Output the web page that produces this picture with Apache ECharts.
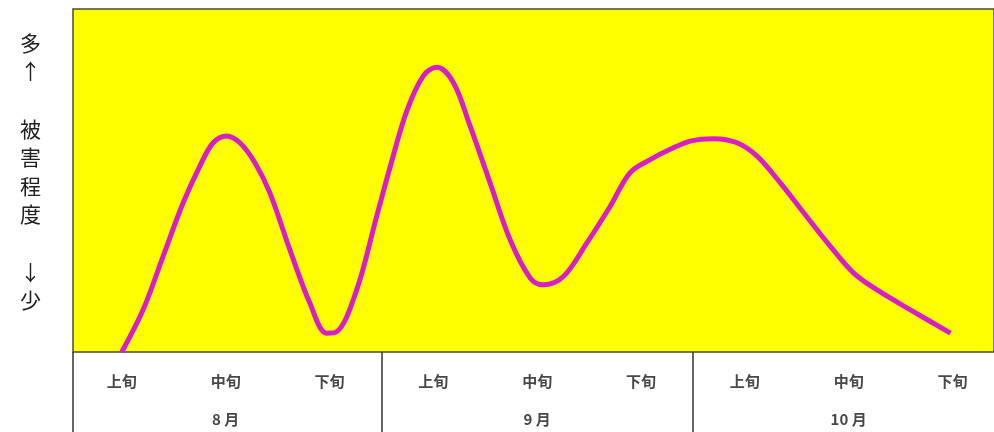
<!DOCTYPE html>
<html>
<head>
<meta charset="utf-8">
<script src="https://cdn.jsdelivr.net/npm/echarts@6/dist/echarts.min.js"></script>
<style>
html,body{margin:0;padding:0;background:#fff;}
#chart{width:994px;height:432px;}
</style>
</head>
<body>
<div id="chart"></div>
<script>
// Period labels (上旬/中旬/下旬 of each month) at positions 0..8
const periodLabels = ['上旬','中旬','下旬','上旬','中旬','下旬','上旬','中旬','下旬'];
const periodPositions = [0,1,2,3,4,5,6,7,8];
const monthLabels = ['8 月','9 月','10 月'];
const monthPositions = [1,4,7];
const monthDividers = [-0.47, 2.5, 5.5];
const yAxisTitle = ['多','↑','','被','害','程','度','','↓','少'];

// Curve: x in period units, y = damage level (0-100)
const curveX = [0, 0.205, 0.398, 0.591, 0.752, 0.880, 1.009, 1.137, 1.282, 1.426, 1.619, 1.812, 1.973, 2.069, 2.262, 2.455, 2.583, 2.744, 2.904, 3.033, 3.193, 3.354, 3.547, 3.740, 3.933, 4.061, 4.253, 4.479, 4.704, 4.896, 5.089, 5.282, 5.475, 5.699, 5.925, 6.118, 6.342, 6.567, 6.824, 7.049, 7.274, 7.595, 7.981];
const curveY = [0, 12.3, 27.9, 43.5, 54.2, 61.0, 63.0, 61.0, 55.2, 46.4, 29.8, 14.2, 5.5, 5.9, 18.1, 39.6, 53.8, 70.2, 80.5, 83.0, 78.6, 65.9, 49.3, 32.7, 21.6, 19.6, 22.0, 31.8, 42.5, 52.3, 56.1, 59.1, 61.5, 62.2, 61.0, 57.1, 49.3, 40.6, 30.8, 23.0, 18.1, 12.3, 5.5];

const chart = echarts.init(document.getElementById('chart'), null, {renderer:'canvas'});
const font = '"Noto Sans CJK JP", sans-serif';
const data = curveX.map((x, i) => [x, curveY[i]]);

chart.setOption({
  animation: false,
  backgroundColor: '#ffffff',
  grid: {
    left: 73, top: 9, right: 0, bottom: 80,
    show: true, backgroundColor: '#ffff00',
    borderColor: '#4a4a30', borderWidth: 1.5
  },
  xAxis: [
    {
      type: 'value', min: -0.47, max: 8.4, position: 'bottom',
      axisLine: {show: false},
      splitLine: {show: false},
      axisTick: {show: true, customValues: monthDividers, length: 82, inside: false,
        lineStyle: {color: '#333', width: 1.5}},
      axisLabel: {customValues: periodPositions, margin: 22,
        formatter: v => periodLabels[Math.round(v)],
        fontFamily: font, fontSize: 15, fontWeight: 'bold', color: '#484848'}
    },
    {
      type: 'value', min: -0.47, max: 8.4, position: 'bottom',
      axisLine: {show: false},
      splitLine: {show: false},
      axisTick: {show: false},
      axisLabel: {customValues: monthPositions, margin: 60,
        formatter: v => monthLabels[monthPositions.indexOf(Math.round(v))],
        fontFamily: font, fontSize: 15, fontWeight: 'bold', color: '#484848'}
    }
  ],
  yAxis: {
    type: 'value', min: 0, max: 100,
    axisLine: {show: false}, axisTick: {show: false},
    axisLabel: {show: false}, splitLine: {show: false},
    name: yAxisTitle.join('\n') + '\n{gap|}',
    nameLocation: 'middle', nameRotate: 0, nameGap: 32,
    nameTextStyle: {fontFamily: font, fontSize: 21, lineHeight: 28.6, color: '#222',
      rich: {gap: {fontSize: 10, lineHeight: 18}}}
  },
  series: [{
    type: 'line', xAxisIndex: 0, data: data, smooth: 0.35,
    showSymbol: false, symbol: 'none',
    lineStyle: {color: '#d91ec9', width: 5}
  }]
});
</script>
</body>
</html>
